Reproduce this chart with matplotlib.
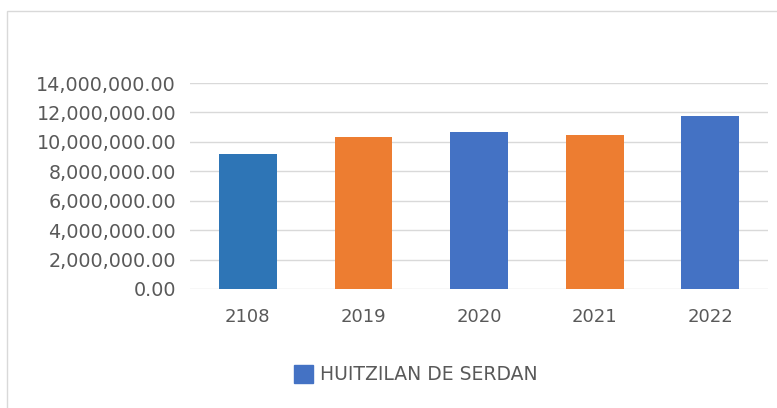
import matplotlib.pyplot as plt
from matplotlib.patches import Rectangle
from matplotlib.ticker import FuncFormatter, MultipleLocator

years = ['2108', '2019', '2020', '2021', '2022']
values = [9170000, 10350000, 10670000, 10440000, 11780000]
colors = ['#2E75B6', '#ED7D31', '#4472C4', '#ED7D31', '#4472C4']
series_name = 'HUITZILAN DE SERDAN'

plt.rcParams['font.family'] = ['DejaVu Sans']

fig = plt.figure(figsize=(7.77, 4.08), dpi=100)
ax = fig.add_axes([190 / 777, 1 - 289 / 408, (768 - 190) / 777, (289 - 83) / 408])

# outer chart frame (cut off at right/bottom as in the source)
fig.patches.append(Rectangle((7 / 777, -0.1), 1.2, 1.1 - 11 / 408, transform=fig.transFigure,
                             fill=False, edgecolor='#d9d9d9', linewidth=1))

x = range(len(years))
ax.bar(x, values, width=0.5, color=colors, zorder=3)

ax.set_ylim(0, 14000000)
ax.set_xlim(-0.5, len(years) - 0.5)
ax.yaxis.set_major_locator(MultipleLocator(2000000))
ax.yaxis.set_major_formatter(FuncFormatter(lambda v, p: f'{v:,.2f}'))
ax.grid(axis='y', color='#d9d9d9', linewidth=1, zorder=0)
ax.set_xticks(list(x))
ax.set_xticklabels(years)
ax.tick_params(axis='both', length=0, labelcolor='#595959')
ax.tick_params(axis='y', pad=10, labelsize=13.8)
ax.tick_params(axis='x', pad=14, labelsize=13)
for s in ax.spines.values():
    s.set_visible(False)

fig.patches.append(Rectangle((294 / 777, 1 - 383 / 408), 19 / 777, 18 / 408,
                             transform=fig.transFigure, color='#4472C4'))
fig.text(320 / 777, 1 - 374 / 408, series_name, fontsize=13.5, color='#595959', va='center')

fig.savefig('out.png', dpi=100)
